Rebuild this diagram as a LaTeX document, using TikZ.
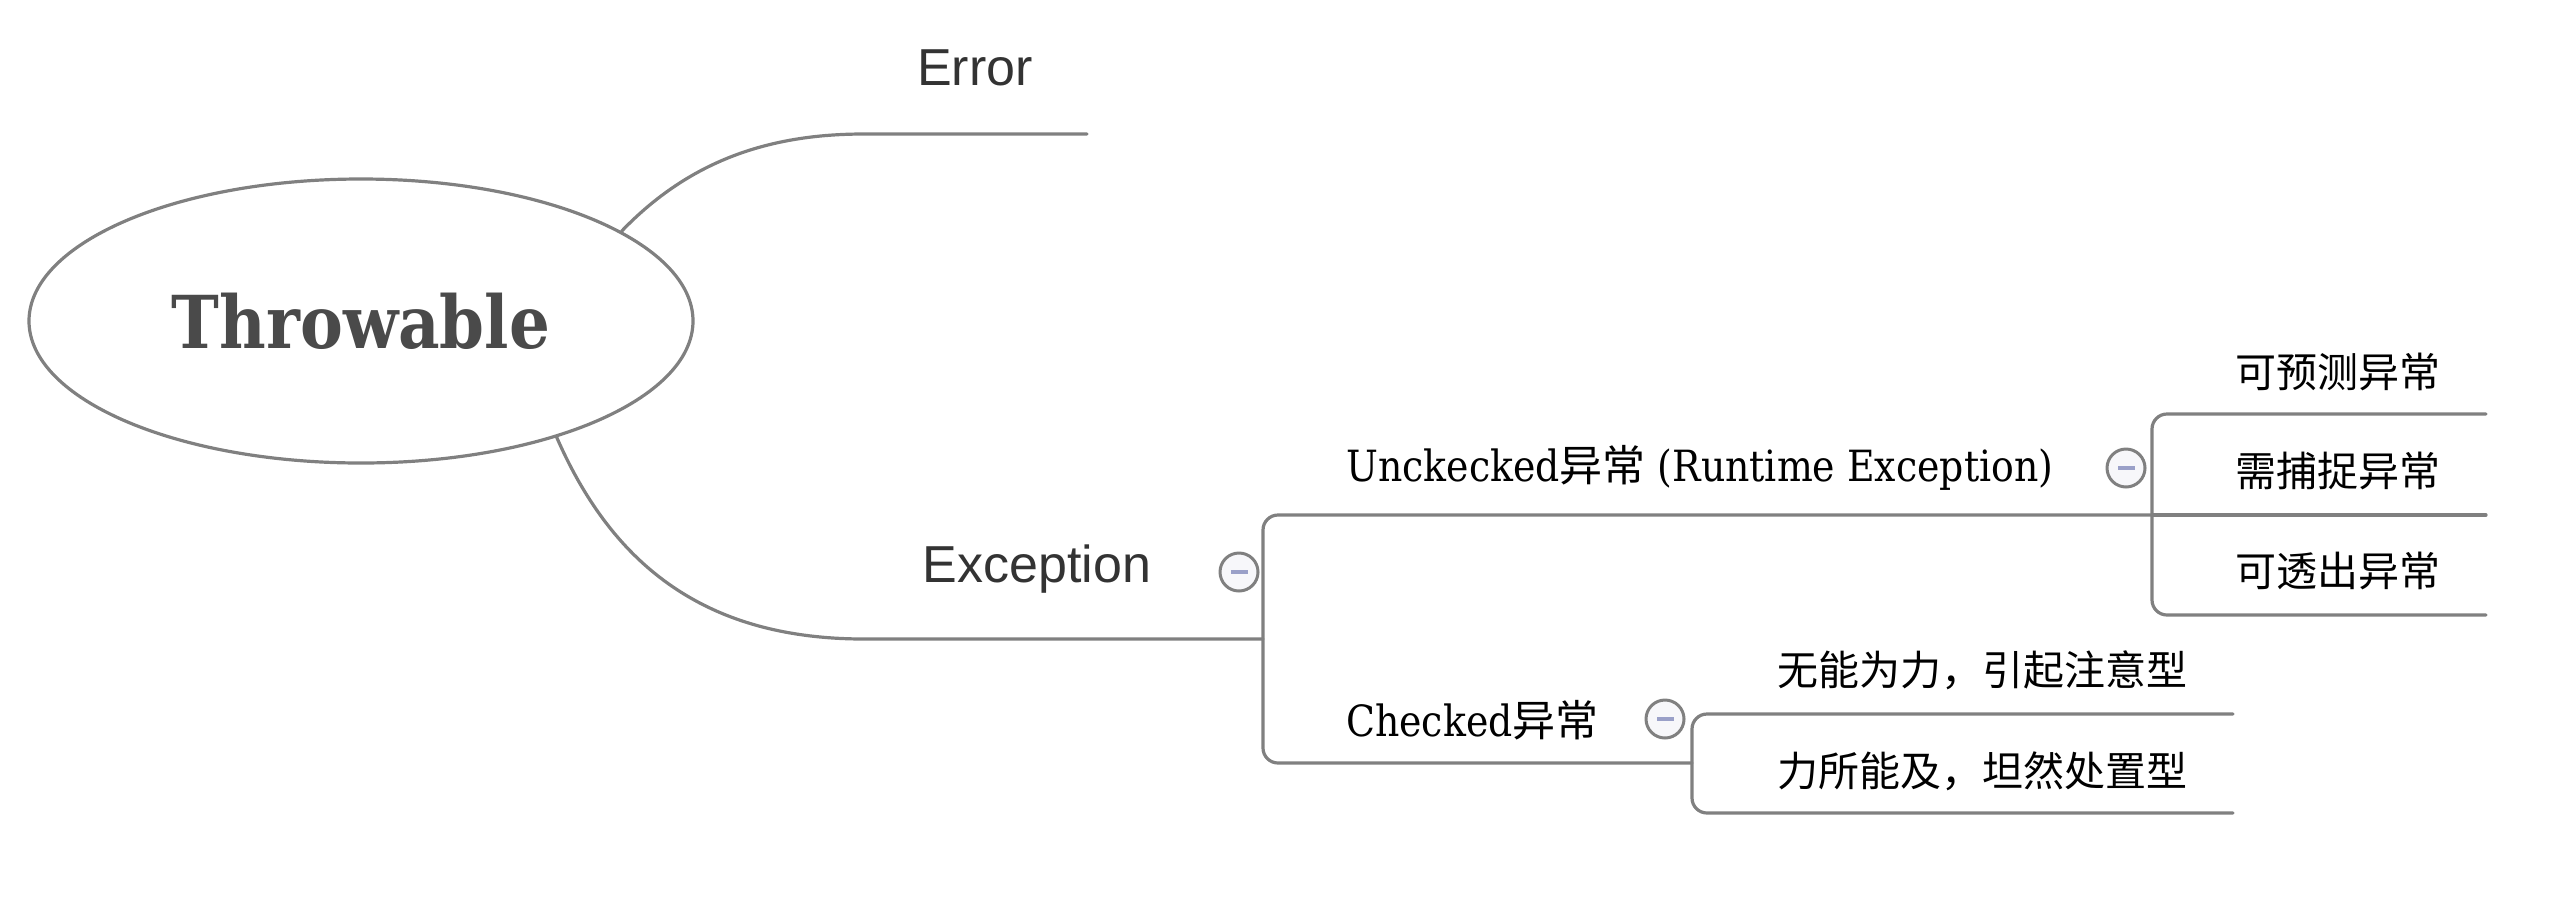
\documentclass[tikz,border=0pt]{standalone}
\usepackage{fontspec}
\setmainfont{DejaVu Serif}[FakeStretch=0.88]
\newfontfamily\slab{DejaVu Serif}[FakeStretch=0.88]
\newfontfamily\sans{Liberation Sans}
\newfontfamily\cjk{Noto Sans CJK SC}
\usetikzlibrary{shapes.geometric}
\definecolor{linec}{HTML}{808080}
\definecolor{txtc}{HTML}{333333}
\definecolor{rootc}{HTML}{4A4A4A}
\definecolor{minusc}{HTML}{9AA0C8}
\definecolor{iconfill}{HTML}{F7F7FA}
\tikzset{
  conn/.style={draw=linec, line width=3.2pt, line cap=round},
  bracket/.style={conn, rounded corners=15pt},
  toptxt/.style={text=txtc, font=\sans\fontsize{52}{60}\selectfont, inner sep=0pt},
  subtxt/.style={text=black, font=\slab\fontsize{43}{50}\selectfont, inner sep=0pt, anchor=west},
  leaftxt/.style={text=black, font=\cjk\fontsize{41}{48}\selectfont, inner sep=0pt},
  collapse/.style={circle, draw=linec, line width=3pt, fill=iconfill, minimum size=38pt, inner sep=0pt,
    path picture={\fill[minusc] ([xshift=-8.5pt,yshift=-2pt]path picture bounding box.center) rectangle ([xshift=8.5pt,yshift=2pt]path picture bounding box.center);}},
}
\begin{document}
\begin{tikzpicture}[x=1pt,y=-1pt]
\useasboundingbox (0,0) rectangle (2556,898);
% root
\node[ellipse, draw=linec, line width=3.2pt, minimum width=664pt, minimum height=284pt, inner sep=0pt,
  text=rootc, font=\slab\bfseries\fontsize{73}{84}\selectfont] (thr) at (361,321) {Throwable};
% level 1
\node[toptxt] (err) at (975,68) {Error};
\node[toptxt] (exc) at (1037,569) {Exception};
\node[collapse] (excI) at (1239,572) {};
\coordinate (errJ) at (864,134);
\coordinate (errE) at (1087,134);
\coordinate (excJ) at (864,639);
\coordinate (excE) at (1263,639);
\draw[conn] (thr.19) .. controls (690,160) and (770,134) .. (errJ) -- (errE);
\draw[conn] ([xshift=6pt,yshift=3pt]thr.-32) .. controls (610,560) and (700,639) .. (excJ) -- (excE);
% exception bracket
\coordinate (bT) at (1263,515);
\coordinate (bB) at (1263,763);
\coordinate (uE) at (2152,515);
\coordinate (cE) at (1692,763);
\draw[bracket] (uE) -- (bT) -- (bB) -- (cE);
% unchecked
\node[subtxt] (unc) at (1346,468) {Unckecked{\cjk 异常} (Runtime Exception)};
\node[collapse] (uncI) at (2126,468) {};
\coordinate (uT) at (2152,414);
\coordinate (uB) at (2152,615);
\coordinate (uTE) at (2486,414);
\coordinate (uME) at (2486,515);
\coordinate (uBE) at (2486,615);
\draw[bracket] (uTE) -- (uT) -- (uB) -- (uBE);
\draw[conn] (uE) -- (uME);
\node[leaftxt] (u1) at (2338,372) {可预测异常};
\node[leaftxt] (u2) at (2338,471) {需捕捉异常};
\node[leaftxt] (u3) at (2338,571) {可透出异常};
% checked
\node[subtxt] (chk) at (1346,720) {Checked{\cjk 异常}};
\node[collapse] (chkI) at (1665,719) {};
\coordinate (cT) at (1692,714);
\coordinate (cB) at (1692,813);
\coordinate (cTE) at (2233,714);
\coordinate (cBE) at (2233,813);
\draw[bracket] (cTE) -- (cT) -- (cB) -- (cBE);
\node[leaftxt] (c1) at (1982,670) {无能为力，引起注意型};
\node[leaftxt] (c2) at (1982,771) {力所能及，坦然处置型};
\end{tikzpicture}
\end{document}
